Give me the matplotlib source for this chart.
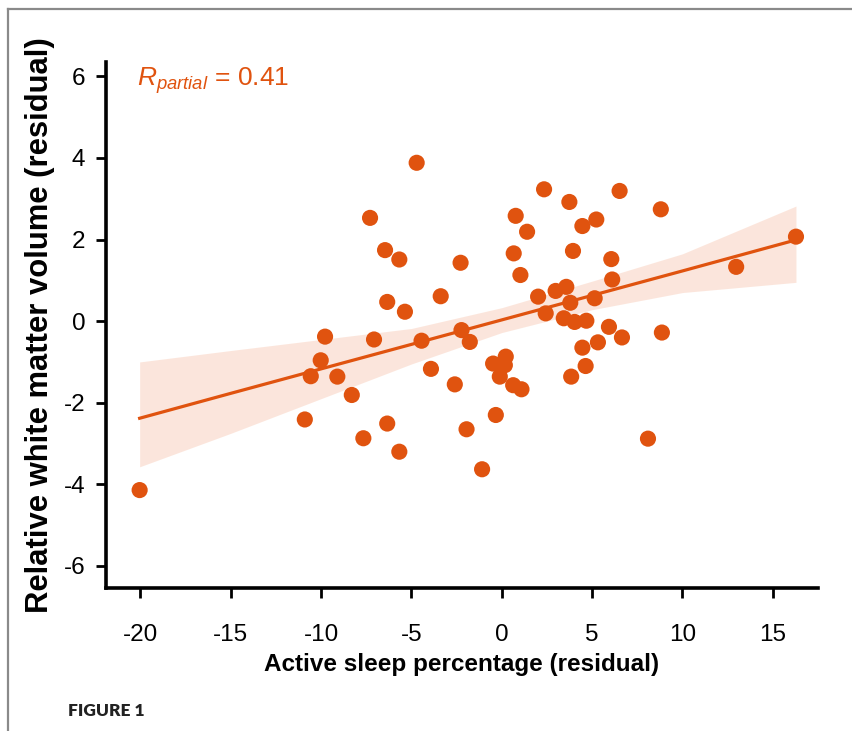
import matplotlib
matplotlib.use("Agg")
from matplotlib import pyplot as plt
from matplotlib.lines import Line2D
import numpy as np

# residuals
sleep_pct = [-20.04, -10.90, -10.57, -10.02, -9.78, -9.10, -8.30, -7.66, -7.29, -7.07,
             -6.46, -6.34, -6.34, -5.67, -5.67, -5.36, -4.71, -4.44, -3.92, -3.38,
             -2.60, -2.28, -2.23, -1.95, -1.77, -1.09, -0.48, -0.33, -0.11, 0.17,
             0.22, 0.63, 0.66, 0.77, 1.03, 1.09, 1.40, 2.01, 2.34, 2.43,
             2.98, 3.43, 3.57, 3.74, 3.79, 3.84, 3.94, 4.03, 4.46, 4.46,
             4.64, 4.68, 5.14, 5.23, 5.32, 5.93, 6.06, 6.11, 6.52, 6.65,
             8.09, 8.80, 8.86, 12.97, 16.28]
wm_volume = [-4.14, -2.41, -1.35, -0.96, -0.38, -1.36, -1.81, -2.87, 2.53, -0.45,
             1.74, 0.47, -2.51, 1.51, -3.20, 0.23, 3.88, -0.48, -1.17, 0.61,
             -1.55, 1.43, -0.22, -2.65, -0.51, -3.63, -1.04, -2.30, -1.36, -1.08,
             -0.87, -1.57, 1.66, 2.58, 1.13, -1.67, 2.19, 0.60, 3.23, 0.19,
             0.74, 0.07, 0.84, 2.92, 0.45, -1.36, 1.72, -0.02, 2.33, -0.65,
             -1.10, 0.01, 0.56, 2.49, -0.52, -0.14, 1.52, 1.02, 3.19, -0.40,
             -2.88, 2.74, -0.28, 1.33, 2.07]

# fit line and confidence band
band_x = [-20.04, -15, -10, -5, 0, 5, 10, 16.28]
fit_y = [-2.38, -1.77, -1.17, -0.57, 0.03, 0.63, 1.23, 1.99]
band_hi = [-1.00, -0.72, -0.45, -0.18, 0.33, 0.98, 1.65, 2.82]
band_lo = [-3.57, -2.75, -1.90, -1.05, -0.28, 0.28, 0.70, 0.95]

xticks = [-20, -15, -10, -5, 0, 5, 10, 15]
yticks = [-6, -4, -2, 0, 2, 4, 6]

orange = "#E0530F"
sans = ["Liberation Sans", "DejaVu Sans"]

plt.rcParams["mathtext.fontset"] = "custom"
plt.rcParams["mathtext.rm"] = "Liberation Sans"
plt.rcParams["mathtext.it"] = "Liberation Sans:italic"

fig = plt.figure(figsize=(8.53, 7.31), dpi=100)
ax = fig.add_axes([0.1243, 0.1956, 0.8347, 0.7196])

ax.fill_between(band_x, band_lo, band_hi, color="#F4A582", alpha=0.28, lw=0, zorder=1)
ax.plot(band_x, fit_y, color=orange, lw=2.3, zorder=2)
ax.scatter(sleep_pct, wm_volume, s=135, color=orange, edgecolors="none", zorder=3)

ax.set_xlim(-21.9, 17.5)
ax.set_ylim(-6.54, 6.35)
ax.set_xticks(xticks)
ax.set_yticks(yticks)
ax.set_xticklabels([str(t) for t in xticks], family=sans, fontsize=17.5)
ax.set_yticklabels([str(t) for t in yticks], family=sans, fontsize=17.5)
ax.tick_params(axis="x", direction="out", length=7, width=2, pad=19)
ax.tick_params(axis="y", direction="out", length=7, width=2, pad=8)

for side in ["top", "right"]:
    ax.spines[side].set_visible(False)
for side in ["left", "bottom"]:
    ax.spines[side].set_linewidth(2.6)

ax.set_xlabel("Active sleep percentage (residual)", family=sans,
              fontweight="bold", fontsize=17.5, labelpad=5)
ax.set_ylabel("Relative white matter volume (residual)", family=sans,
              fontweight="bold", fontsize=22.3, labelpad=6)

ax.text(0.044, 0.965, r"$R_{partial}$ = 0.41", transform=ax.transAxes, color=orange,
        family=sans, fontsize=19, va="center", ha="left")

fig.text(0.080, 0.021, "FIGURE 1", family=["Lato", "DejaVu Sans"], fontweight="heavy",
         fontsize=12.5, color="#222222")

# page frame lines
fig.add_artist(Line2D([0.0094, 1.0], [0.988, 0.988], transform=fig.transFigure,
                      color="#8a8a8a", lw=1.6))
fig.add_artist(Line2D([0.0094, 0.0094], [0.0, 0.988], transform=fig.transFigure,
                      color="#8a8a8a", lw=1.6))

fig.savefig("out.png", dpi=100)
